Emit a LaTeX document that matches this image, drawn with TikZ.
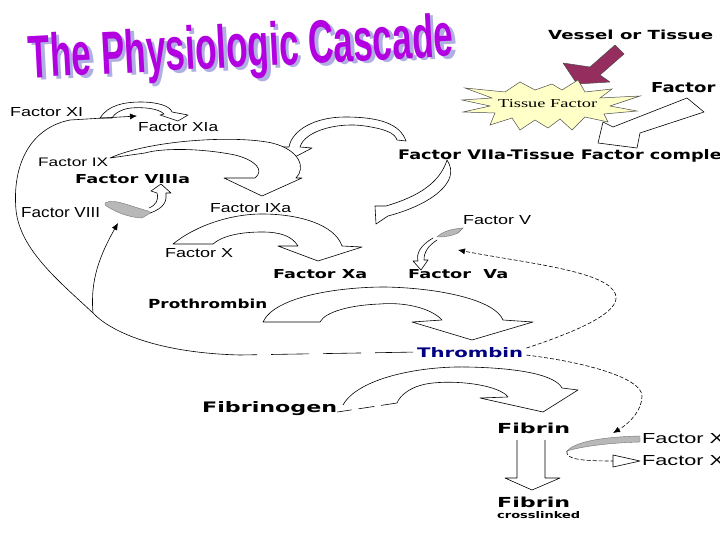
\documentclass[tikz,border=0pt]{standalone}
\usepackage{fontspec}
\setmainfont{Liberation Sans}
\newfontfamily\blk{DejaVu Sans}
\newfontfamily\serf{Liberation Serif}
\usepackage{graphicx}
\usetikzlibrary{arrows.meta}
\newcommand\fitt[3]{\resizebox{#1pt}{#2pt}{#3}}
\definecolor{titlec}{RGB}{178,0,225}
\definecolor{shadowc}{RGB}{175,175,225}
\definecolor{arrowc}{RGB}{150,45,95}
\definecolor{burst}{RGB}{255,255,200}
\definecolor{navyc}{RGB}{0,0,128}
\tikzset{
  lbl/.style={inner sep=0pt, anchor=base west},
  outl/.style={draw=black, line width=0.6pt, fill=white, line join=round},
  fbl/.style={draw=black, line width=0.6pt},
  fbd/.style={draw=black, line width=0.6pt, dash pattern=on 4pt off 2pt},
  band/.style={fill=black!28, draw=black!55, line width=0.4pt},
  tipf/.style={-{Latex[length=7pt,width=6pt]}},
  ttl/.style={transform shape, inner sep=0pt, anchor=base}
}
\begin{document}
\begin{tikzpicture}[x=1pt,y=-1pt]
\useasboundingbox (0,0) rectangle (720,540);
\fill[white] (0,0) rectangle (720,540);

% title with shadow
\begin{scope}[shift={(242,67)}, rotate=3]
  \node[ttl, text=shadowc] (titlesh) at (3.5,3) {\fitt{425}{44}{\bfseries The Physiologic Cascade}};
  \node[ttl, text=titlec] (title) at (0,0) {\fitt{425}{44}{\bfseries The Physiologic Cascade}};
\end{scope}

% labels (regular)
\node[lbl] (fxi)   at (10,117)  {\fitt{73}{9}{Factor XI}};
\node[lbl] (fxia)  at (138,132) {\fitt{80}{9}{Factor XIa}};
\node[lbl] (fix)   at (38,167)  {\fitt{70}{8.5}{Factor IX}};
\node[lbl] (fviii) at (21,218)  {\fitt{79}{10}{Factor VIII}};
\node[lbl] (fixa)  at (210,212) {\fitt{81}{9}{Factor IXa}};
\node[lbl] (fx)    at (165,257) {\fitt{68}{9}{Factor X}};
\node[lbl] (fv)    at (463,224) {\fitt{68}{9}{Factor V}};
\node[lbl] (fxiii) at (642,443) {\fitt{100}{10}{Factor XIII}};
\node[lbl] (fxiiia) at (642,465) {\fitt{112}{10}{Factor XIIIa}};
% labels (bold)
\node[lbl] (vessel) at (548,40) {\fitt{165}{9.5}{\blk\bfseries Vessel or Tissue}};
\node[lbl] (fvii)  at (651,93)  {\fitt{98}{10}{\blk\bfseries Factor VII}};
\node[lbl] (cplx)  at (398,160) {\fitt{335}{10}{\blk\bfseries Factor VIIa-Tissue Factor complex}};
\node[lbl] (fviiia) at (75,184) {\fitt{115}{9}{\blk\bfseries Factor VIIIa}};
\node[lbl] (fxa)   at (273,278) {\fitt{94}{9}{\blk\bfseries Factor Xa}};
\node[lbl] (fva)   at (408,278) {\fitt{100}{9}{\blk\bfseries Factor\ \ Va}};
\node[lbl] (pro)   at (148,308) {\fitt{119}{9.5}{\blk\bfseries Prothrombin}};
\node[lbl, text=navyc] (thr) at (417,357) {\fitt{106}{10}{\blk\bfseries Thrombin}};
\node[lbl] (fbg)   at (202,412) {\fitt{135}{11}{\blk\bfseries Fibrinogen}};
\node[lbl] (fbn)   at (497,433) {\fitt{73}{10.5}{\blk\bfseries Fibrin}};
\node[lbl] (fbnx)  at (497,507) {\fitt{73}{10.5}{\blk\bfseries Fibrin}};
\node[lbl] (xl)    at (497,518) {\fitt{83}{7}{\blk\bfseries crosslinked}};

% vessel arrow
\filldraw[fill=arrowc, draw=black!70, line width=0.5pt, line join=round]
  (615,45) -- (590,67) -- (563,63) -- (577,84) -- (610,82) -- (600,75) -- (624,54) -- cycle;

% starburst
\filldraw[fill=burst, draw=black!70, line width=0.5pt, line join=miter]
  (640,96) -- (610,106) -- (637,111) -- (604,114) -- (608,122) -- (585,117)
  -- (572,130) -- (560,119) -- (548,128) -- (535,120) -- (520,130) -- (512,118)
  -- (490,125) -- (495,113) -- (463,112) -- (490,106) -- (462,100) -- (492,98)
  -- (465,88) -- (505,92) -- (520,82) -- (535,90) -- (552,84) -- (562,90)
  -- (578,80) -- (585,92) -- (612,89) -- (600,98) -- cycle;
\node[lbl] (tf) at (498,108) {\fitt{99}{8}{\serf Tissue Factor}};

% Factor VII -> complex
\draw[outl] (687,98) -- (704,112) -- (640,133) -- (637,148) -- (598,143) -- (603,122) -- (613,127) -- cycle;

% complex -> IX activation (top arc)
\draw[outl] (281,147) -- (293,158) -- (312,148) -- (300,147)
  .. controls (305,130) and (340,122) .. (365,126)
  .. controls (385,129) and (395,133) .. (397,140) -- (406,141)
  .. controls (400,124) and (380,117) .. (345,117)
  .. controls (315,117) and (292,130) .. (289,147) -- cycle;

% complex -> X (leaf arrow)
\draw[outl] (447,160) .. controls (462,182) and (430,205) .. (388,216) -- (376,224) -- (375,206) -- (386,206)
  .. controls (420,196) and (440,182) .. (447,160) -- cycle;

% XI -> XIa
\draw[outl] (100,118) .. controls (108,105) and (125,102) .. (140,102)
  .. controls (158,102) and (170,106) .. (172,112) -- (188,115) -- (178,121) -- (160,115) -- (164,114)
  .. controls (158,108) and (142,107) .. (131,108)
  .. controls (121,109) and (114,114) .. (112,118) -- cycle;

% IX -> IXa
\draw[outl] (110,158) .. controls (150,140) and (235,135) .. (272,143)
  .. controls (300,150) and (306,168) .. (296,178) -- (302,178) -- (262,196) -- (224,178) -- (255,178)
  .. controls (265,170) and (255,160) .. (235,155)
  .. controls (200,148) and (162,148) .. (145,153) -- cycle;

% Factor VIII band and -> VIIIa
\draw[band] (105,203) .. controls (115,198) and (128,206) .. (152,212) -- (142,218)
  .. controls (125,217) and (112,210) .. (105,205) -- cycle;
\draw[outl] (150,213) .. controls (165,208) and (167,200) .. (166,193) -- (171,193) -- (161,184) -- (151,191) -- (157,193)
  .. controls (159,200) and (156,205) .. (149,208);

% X -> Xa
\draw[outl] (173,244) .. controls (195,226) and (230,214) .. (262,214)
  .. controls (300,214) and (335,225) .. (342,246) -- (362,247) -- (318,261) -- (278,246) -- (298,246)
  .. controls (292,236) and (280,232) .. (262,232)
  .. controls (240,232) and (222,236) .. (213,244) -- cycle;

% Factor V band and -> Va
\draw[band] (437,237) .. controls (442,232) and (450,229) .. (463,228) -- (458,233)
  .. controls (452,236) and (445,237) .. (437,237) -- cycle;
\draw[outl] (433,238) .. controls (421,245) and (416,253) .. (418,261) -- (413,261) -- (421,270) -- (428,260) -- (424,260)
  .. controls (424,252) and (428,246) .. (437,240);

% Prothrombin -> Thrombin
\draw[outl] (263,322) .. controls (275,296) and (340,287) .. (385,287)
  .. controls (440,288) and (495,300) .. (503,320) -- (533,322) -- (472,340) -- (412,322) -- (442,320)
  .. controls (430,307) and (402,302) .. (380,304)
  .. controls (350,305) and (325,312) .. (320,322) -- cycle;

% Fibrinogen -> Fibrin
\fill[white] (343,405) .. controls (358,378) and (420,366) .. (467,367)
  .. controls (520,368) and (555,375) .. (562,388) -- (578,390) -- (543,412) -- (480,398) -- (508,397)
  .. controls (500,386) and (462,380) .. (433,383)
  .. controls (412,385) and (400,395) .. (397,403) -- cycle;
\draw[fbl, line join=round] (343,405) .. controls (358,378) and (420,366) .. (467,367)
  .. controls (520,368) and (555,375) .. (562,388) -- (578,390) -- (543,412) -- (480,398) -- (508,397)
  .. controls (500,386) and (462,380) .. (433,383)
  .. controls (412,385) and (400,395) .. (397,403);
\draw[fbl, dash pattern=on 16pt off 7pt] (397,403) -- (fbg.base east);

% Fibrin -> crosslinked
\draw[outl, fill=none] (517,440) -- (517,478) -- (505,478) -- (532,490) -- (560,478) -- (545,478) -- (545,440);

% Factor XIII band and -> XIIIa
\draw[band] (640,436) .. controls (600,437) and (575,442) .. (567,451) .. controls (580,447) and (605,443) .. (640,442) -- cycle;
\draw[fbd] (567,451) .. controls (565,459) and (580,461) .. (613,461);
\draw[outl] (613,455) -- (640,461) -- (613,467) -- cycle;

% feedback from thrombin
\coordinate (j1) at (240,355);
\coordinate (j2) at (93,313);
\coordinate (xiend) at (137,116);
\coordinate (viiiend) at (118,223);
\coordinate (vend) at (458,250);
\coordinate (xiiiend) at (613,433);
\draw[fbl, dash pattern=on 38pt off 14pt] ([xshift=-4pt]thr.west) -- (j1);
\draw[fbl, tipf] (j1) .. controls (160,353) and (112,333) .. (j2)
  .. controls (60,282) and (20,250) .. (16,210)
  .. controls (12,165) and (30,128) .. (70,120) -- (xiend);
\draw[fbl, tipf] (j2) .. controls (90,280) and (100,255) .. (viiiend);
\draw[fbd, tipf] ([yshift=4pt,xshift=3pt]thr.east) .. controls (575,332) and (630,310) .. (613,290)
  .. controls (598,270) and (520,262) .. (vend);
\draw[fbd, tipf] ([yshift=-3pt,xshift=3pt]thr.east) .. controls (585,362) and (642,378) .. (642,396)
  .. controls (642,410) and (630,423) .. (xiiiend);
\end{tikzpicture}
\end{document}
